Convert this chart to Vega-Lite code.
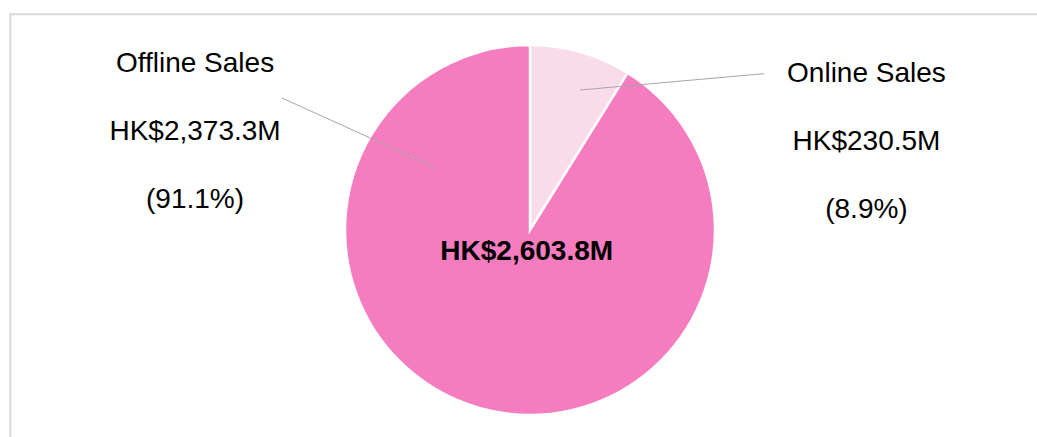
{
  "$schema": "https://vega.github.io/schema/vega-lite/v6.json",
  "width": 1027,
  "height": 423,
  "autosize": {"type": "none"},
  "padding": {"left": 10, "top": 14, "right": 0, "bottom": 0},
  "background": "#FFFFFF",
  "config": {
    "view": {"stroke": null},
    "text": {"font": "Liberation Sans"}
  },
  "data": {
    "values": [
      {"channel": "Online Sales", "rank": 1, "value": 230.5, "label": "Online Sales|HK$230.5M|(8.9%)"},
      {"channel": "Offline Sales", "rank": 2, "value": 2373.3, "label": "Offline Sales|HK$2,373.3M|(91.1%)"}
    ]
  },
  "layer": [
    {
      "data": {"values": [{"edge": "top"}]},
      "mark": {"type": "rule", "stroke": "#D9D9D9", "strokeWidth": 2},
      "encoding": {"x": {"value": 0}, "x2": {"value": 1030}, "y": {"value": 0.3}, "y2": {"value": 0.3}}
    },
    {
      "data": {"values": [{"edge": "left"}]},
      "mark": {"type": "rule", "stroke": "#D9D9D9", "strokeWidth": 2},
      "encoding": {"x": {"value": 0.3}, "x2": {"value": 0.3}, "y": {"value": -1}, "y2": {"value": 430}}
    },
    {
      "mark": {"type": "arc", "radius": 185, "xOffset": 6.5, "yOffset": 4.5, "stroke": "#FFFFFF", "strokeWidth": 2.5},
      "encoding": {
        "theta": {"field": "value", "type": "quantitative", "stack": true},
        "order": {"field": "rank", "type": "quantitative"},
        "color": {
          "field": "channel",
          "type": "nominal",
          "scale": {"domain": ["Online Sales", "Offline Sales"], "range": ["#FADBEA", "#F57CBE"]},
          "legend": null
        }
      }
    },
    {
      "mark": {"type": "text", "radius": 100, "dx": 315.5, "dy": -47.6, "align": "center", "baseline": "alphabetic", "lineBreak": "|", "lineHeight": 68, "fontSize": 28, "color": "#000000"},
      "encoding": {
        "theta": {"field": "value", "type": "quantitative", "stack": true},
        "order": {"field": "rank", "type": "quantitative"},
        "text": {"condition": {"test": "datum.channel === 'Online Sales'", "field": "label"}, "value": ""}
      }
    },
    {
      "mark": {"type": "text", "radius": 100, "dx": -301, "dy": -249.4, "align": "center", "baseline": "alphabetic", "lineBreak": "|", "lineHeight": 68, "fontSize": 28, "color": "#000000"},
      "encoding": {
        "theta": {"field": "value", "type": "quantitative", "stack": true},
        "order": {"field": "rank", "type": "quantitative"},
        "text": {"condition": {"test": "datum.channel === 'Offline Sales'", "field": "label"}, "value": ""}
      }
    },
    {
      "data": {"values": [{"total": "HK$2,603.8M"}]},
      "mark": {"type": "text", "dx": 3.2, "dy": 34, "align": "center", "baseline": "alphabetic", "fontSize": 28, "fontWeight": "bold", "color": "#000000"},
      "encoding": {"text": {"field": "total", "type": "nominal"}}
    },
    {
      "data": {"values": [{"leader": "Online Sales"}]},
      "mark": {"type": "rule", "stroke": "#A6A6A6", "strokeWidth": 1},
      "encoding": {"x": {"value": 570}, "y": {"value": 76}, "x2": {"value": 754}, "y2": {"value": 59.7}}
    },
    {
      "data": {"values": [{"leader": "Offline Sales"}]},
      "mark": {"type": "rule", "stroke": "#A6A6A6", "strokeWidth": 1},
      "encoding": {"x": {"value": 272}, "y": {"value": 84}, "x2": {"value": 425}, "y2": {"value": 153.3}}
    }
  ]
}
